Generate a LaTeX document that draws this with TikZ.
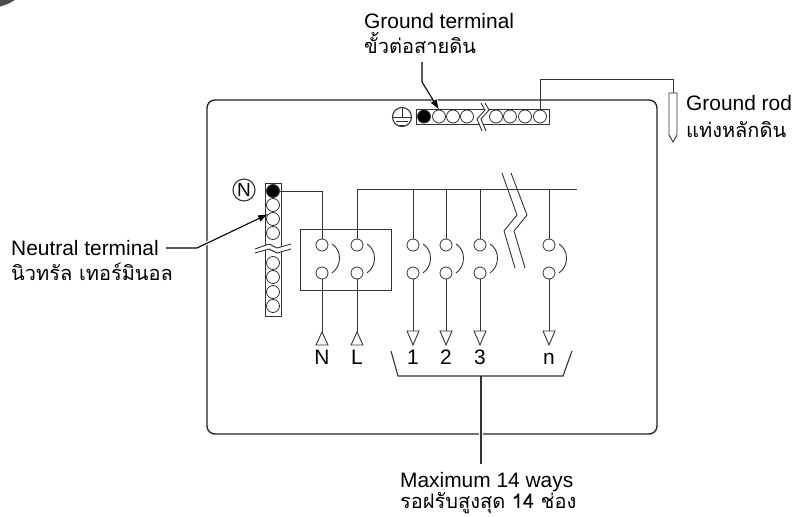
\documentclass[tikz,border=0pt]{standalone}
\usepackage{fontspec}
\setmainfont{Liberation Sans}
\newfontfamily\thaifont[Script=Thai]{Loma}
\definecolor{inkgray}{gray}{0.2}
\tikzset{
  wire/.style={draw=inkgray, line width=0.9pt},
  halo/.style={draw=white, line width=3.5pt},
  frameline/.style={draw=black!85, line width=1.4pt},
  hole/.style={circle, draw=inkgray, line width=0.8pt, fill=white, inner sep=0pt, minimum size=13pt},
  blackhole/.style={hole, fill=black},
  bar/.style={draw=inkgray, line width=0.9pt, inner sep=0pt},
  lab/.style={inner sep=0pt, anchor=base west, font=\fontsize{20.9}{24}\selectfont},
  thailab/.style={inner sep=0pt, anchor=base west, font=\fontsize{20}{24}\selectfont\thaifont},
  pointer/.style={draw=black, line width=1.1pt, -{Latex[length=10pt,width=7pt]}},
}
\usetikzlibrary{arrows.meta}
\begin{document}
\begin{tikzpicture}[x=1pt,y=-1pt]
  \useasboundingbox (0,0) rectangle (793,517);
  \fill[black!70] (0,0) -- (15,0) .. controls (10,3) and (6,5) .. (0,6.5) -- cycle;

  % cabinet
  \node[frameline, rounded corners=8pt, minimum width=450pt, minimum height=334pt, inner sep=0pt] (cabinet) at (432,267) {};

  % ground terminal bar
  \node[bar, minimum width=133pt, minimum height=15pt] (gbar) at (482.5,116.5) {};
  \node[blackhole] (g1) at (424,116.5) {};
  \foreach \xpos/\name in {439/g2,453/g3,467/g4,496/g5,510/g6,525/g7,540/g8}
    \node[hole] (\name) at (\xpos,116.5) {};
  \fill[white] (481,103) -- (485,110) -- (477,119) -- (482,131) -- (486,131) -- (481,119) -- (489,110) -- (485,103) -- cycle;
  \draw[wire] (481,103) -- (485,110) -- (477,119) -- (482,131);
  \draw[wire] (485,103) -- (489,110) -- (481,119) -- (486,131);

  % ground symbol
  \node[circle, draw=inkgray, line width=1.1pt, inner sep=0pt, minimum size=19pt] (gsym) at (402,117) {};
  \draw[wire] (gsym.north) -- (gsym.center);
  \draw[wire] (gsym.west) -- (gsym.east);
  \draw[wire] (396,121) -- (408,121);
  \draw[wire] (399,125) -- (405,125);

  % ground rod
  \coordinate (rodtop) at (673,93);
  \coordinate (rodbend) at (540,79);
  \draw[wire] (669,93) -- (677,93) -- (677,135) -- (673,142) -- (669,135) -- cycle;
  \draw[wire] (g8.north) |- (rodbend) -| (rodtop);

  % neutral terminal bar
  \node[bar, minimum width=16pt, minimum height=133pt] (nbar) at (273,249.5) {};
  \node[blackhole] (n1) at (273,191) {};
  \foreach \ypos/\name in {205/n2,219/n3,233/n4,263/n5,277/n6,292/n7,306/n8}
    \node[hole] (\name) at (273,\ypos) {};
  \fill[white] (255,249) -- (269,244) -- (277,248) -- (291,244) -- (291,249) -- (277,253) -- (269,249) -- (255,253) -- cycle;
  \draw[wire] (255,249) -- (269,244) -- (277,248) -- (291,244);
  \draw[wire] (255,253) -- (269,249) -- (277,253) -- (291,249);
  \node[circle, draw=inkgray, line width=1.1pt, inner sep=0pt, minimum size=22pt, font=\fontsize{19}{20}\selectfont] (nsym) at (244,190) {N};

  % main breaker
  \node[bar, minimum width=91pt, minimum height=61pt] (mainbox) at (345.5,259.5) {};
  \coordinate (busl) at (357,189);
  \coordinate (busr) at (577,189);
  \foreach \xpos/\name/\lab in {322/N/N,357/L/L} {
    \node[hole, minimum size=12pt] (top\name) at (\xpos,245) {};
    \node[hole, minimum size=12pt] (bot\name) at (\xpos,273) {};
    \coordinate (tip\name) at (\xpos,332);
    \draw[wire] (bot\name) -- (tip\name);
    \draw[wire] (tip\name) -- ++(6,13) -- ++(-12,0) -- cycle;
    \draw[wire] (\xpos+10,244) .. controls (\xpos+20,250) and (\xpos+20,266) .. (\xpos+10,273);
    \node[lab, anchor=base] (lab\name) at (\xpos,364) {\lab};
  }
  \draw[wire] (n1) -- (n1 -| topN) -- (topN);
  \draw[wire] (topL) -- (busl) -- (busr);

  % branch breakers
  \foreach \xpos/\name/\lab in {413/a/1,446/b/2,480/c/3,549/d/n} {
    \node[hole, minimum size=12pt] (top\name) at (\xpos,245) {};
    \node[hole, minimum size=12pt] (bot\name) at (\xpos,273) {};
    \coordinate (tip\name) at (\xpos,345);
    \draw[wire] (top\name) -- (top\name |- busl);
    \draw[wire] (bot\name) -- (\xpos,331);
    \draw[wire] (tip\name) -- ++(6,-14) -- ++(-12,0) -- cycle;
    \draw[wire] (\xpos+10,244) .. controls (\xpos+20,250) and (\xpos+20,266) .. (\xpos+10,273);
    \node[lab, anchor=base] (lab\name) at (\xpos,364) {\lab};
  }
  \draw[wire] (502,173) -- (517,215) -- (504,231) -- (515,268);
  \draw[wire] (511,173) -- (527,215) -- (514,231) -- (525,268);

  % bracket
  \coordinate (brk) at (481,376);
  \coordinate (stemend) at (481,464);
  \draw[wire, line width=1.1pt] (391,351) -- (398,376) -- (563,376) -- (572,351);
  \draw[halo] (brk) ++(0,50) -- ++(0,16);
  \draw[wire, line width=1.1pt] (brk) -- (stemend);

  % labels
  \node[lab] (gtlabel) at (364,28) {Ground terminal};
  \node[thailab] (gtthai) at (364,53) {ขั้วต่อสายดิน};
  \node[lab] (grlabel) at (686,110) {Ground rod};
  \node[thailab] (grthai) at (686,137) {แท่งหลักดิน};
  \node[lab] (ntlabel) at (11,255) {Neutral terminal};
  \node[thailab] (ntthai) at (11,280) {นิวทรัล เทอร์มินอล};
  \node[lab] (maxlabel) at (400,487) {Maximum 14 ways};
  \node[thailab] (maxthai) at (400,508) {รอฝรับสูงสุด 14 ช่อง};

  % pointers
  \coordinate (gpa) at (422,62);
  \coordinate (gpb) at (422,82);
  \coordinate (npa) at (166,248);
  \coordinate (npb) at (197,248);
  \draw[halo] (431,94) -- (437,102);
  \draw[halo] (205,244) -- (209,242);
  \draw[pointer] (gpa) -- (gpb) -- (g2.north);
  \draw[pointer] (npa) -- (npb) -- (n3.135);
\end{tikzpicture}
\end{document}
